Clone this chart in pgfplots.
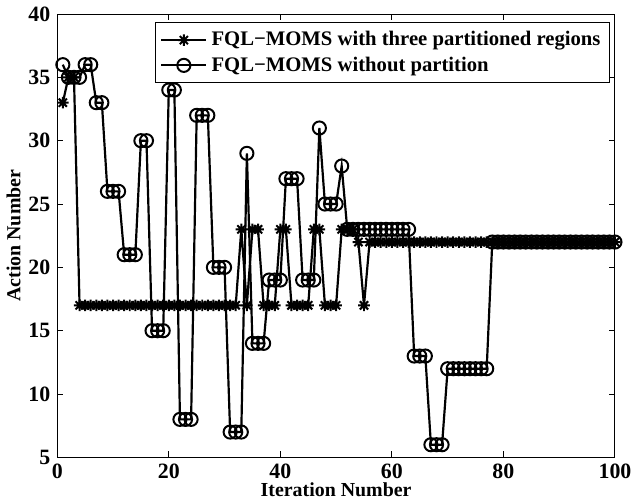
\documentclass[border=0pt]{standalone}
\usepackage{fontspec}
\setmainfont{Liberation Serif}
\usepackage{pgfplots}
\pgfplotsset{compat=1.18}

% MATLAB-style eight-arm asterisk
\pgfdeclareplotmark{ast8}{%
  \pgfpathmoveto{\pgfqpoint{-\pgfplotmarksize}{0pt}}%
  \pgfpathlineto{\pgfqpoint{\pgfplotmarksize}{0pt}}%
  \pgfpathmoveto{\pgfqpoint{0pt}{-\pgfplotmarksize}}%
  \pgfpathlineto{\pgfqpoint{0pt}{\pgfplotmarksize}}%
  \pgfpathmoveto{\pgfqpoint{-0.707\pgfplotmarksize}{-0.707\pgfplotmarksize}}%
  \pgfpathlineto{\pgfqpoint{0.707\pgfplotmarksize}{0.707\pgfplotmarksize}}%
  \pgfpathmoveto{\pgfqpoint{-0.707\pgfplotmarksize}{0.707\pgfplotmarksize}}%
  \pgfpathlineto{\pgfqpoint{0.707\pgfplotmarksize}{-0.707\pgfplotmarksize}}%
  \pgfusepathqstroke}

\pgfplotstableread{
x y
1 33
2 35
3 35
4 17
5 17
6 17
7 17
8 17
9 17
10 17
11 17
12 17
13 17
14 17
15 17
16 17
17 17
18 17
19 17
20 17
21 17
22 17
23 17
24 17
25 17
26 17
27 17
28 17
29 17
30 17
31 17
32 17
33 23
34 17
35 23
36 23
37 17
38 17
39 17
40 23
41 23
42 17
43 17
44 17
45 17
46 23
47 23
48 17
49 17
50 17
51 23
52 23
53 23
54 22
55 17
56 22
57 22
58 22
59 22
60 22
61 22
62 22
63 22
64 22
65 22
66 22
67 22
68 22
69 22
70 22
71 22
72 22
73 22
74 22
75 22
76 22
77 22
78 22
79 22
80 22
81 22
82 22
83 22
84 22
85 22
86 22
87 22
88 22
89 22
90 22
91 22
92 22
93 22
94 22
95 22
96 22
97 22
98 22
99 22
100 22
}\partitioned

\pgfplotstableread{
x y
1 36
2 35
3 35
4 35
5 36
6 36
7 33
8 33
9 26
10 26
11 26
12 21
13 21
14 21
15 30
16 30
17 15
18 15
19 15
20 34
21 34
22 8
23 8
24 8
25 32
26 32
27 32
28 20
29 20
30 20
31 7
32 7
33 7
34 29
35 14
36 14
37 14
38 19
39 19
40 19
41 27
42 27
43 27
44 19
45 19
46 19
47 31
48 25
49 25
50 25
51 28
52 23
53 23
54 23
55 23
56 23
57 23
58 23
59 23
60 23
61 23
62 23
63 23
64 13
65 13
66 13
67 6
68 6
69 6
70 12
71 12
72 12
73 12
74 12
75 12
76 12
77 12
78 22
79 22
80 22
81 22
82 22
83 22
84 22
85 22
86 22
87 22
88 22
89 22
90 22
91 22
92 22
93 22
94 22
95 22
96 22
97 22
98 22
99 22
100 22
}\nopartition

\begin{document}
\begin{tikzpicture}
\begin{axis}[
    width=280.5pt, height=223pt, scale only axis,
    xmin=0, xmax=100, ymin=5, ymax=40,
    xtick={0,20,...,100}, ytick={5,10,...,40},
    tick align=inside, major tick length=3pt,
    axis line style={line width=0.5pt}, every tick/.style={black, line width=0.5pt},
    /pgf/number format/assume math mode=true,
    tick label style={font=\fontsize{11}{13}\selectfont\bfseries},
    label style={font=\fontsize{10}{12}\selectfont\bfseries},
    xlabel={Iteration Number}, ylabel={Action Number},
    xlabel style={yshift=5pt}, ylabel style={yshift=-3pt},
    legend style={at={(0.991,0.982)}, anchor=north east, draw=black,
        line width=0.5pt, font=\fontsize{10.4}{12.5}\selectfont\bfseries,
        cells={anchor=west}, row sep=0pt, inner sep=2.5pt},
    legend image code/.code={\draw[mark repeat=2, mark phase=2]
        plot coordinates {(0cm,0cm) (0.4cm,0cm) (0.8cm,0cm)};},
]
\addplot[black, line width=1.1pt, mark=ast8, mark size=2.9pt,
    mark options={solid, line width=1pt}] table[x=x, y=y] {\partitioned};
\addplot[black, line width=1.1pt, mark=o, mark size=3.3pt,
    mark options={solid, line width=1pt}] table[x=x, y=y] {\nopartition};
\legend{FQL−MOMS with three partitioned regions, FQL−MOMS without partition}
\end{axis}
\end{tikzpicture}
\end{document}
